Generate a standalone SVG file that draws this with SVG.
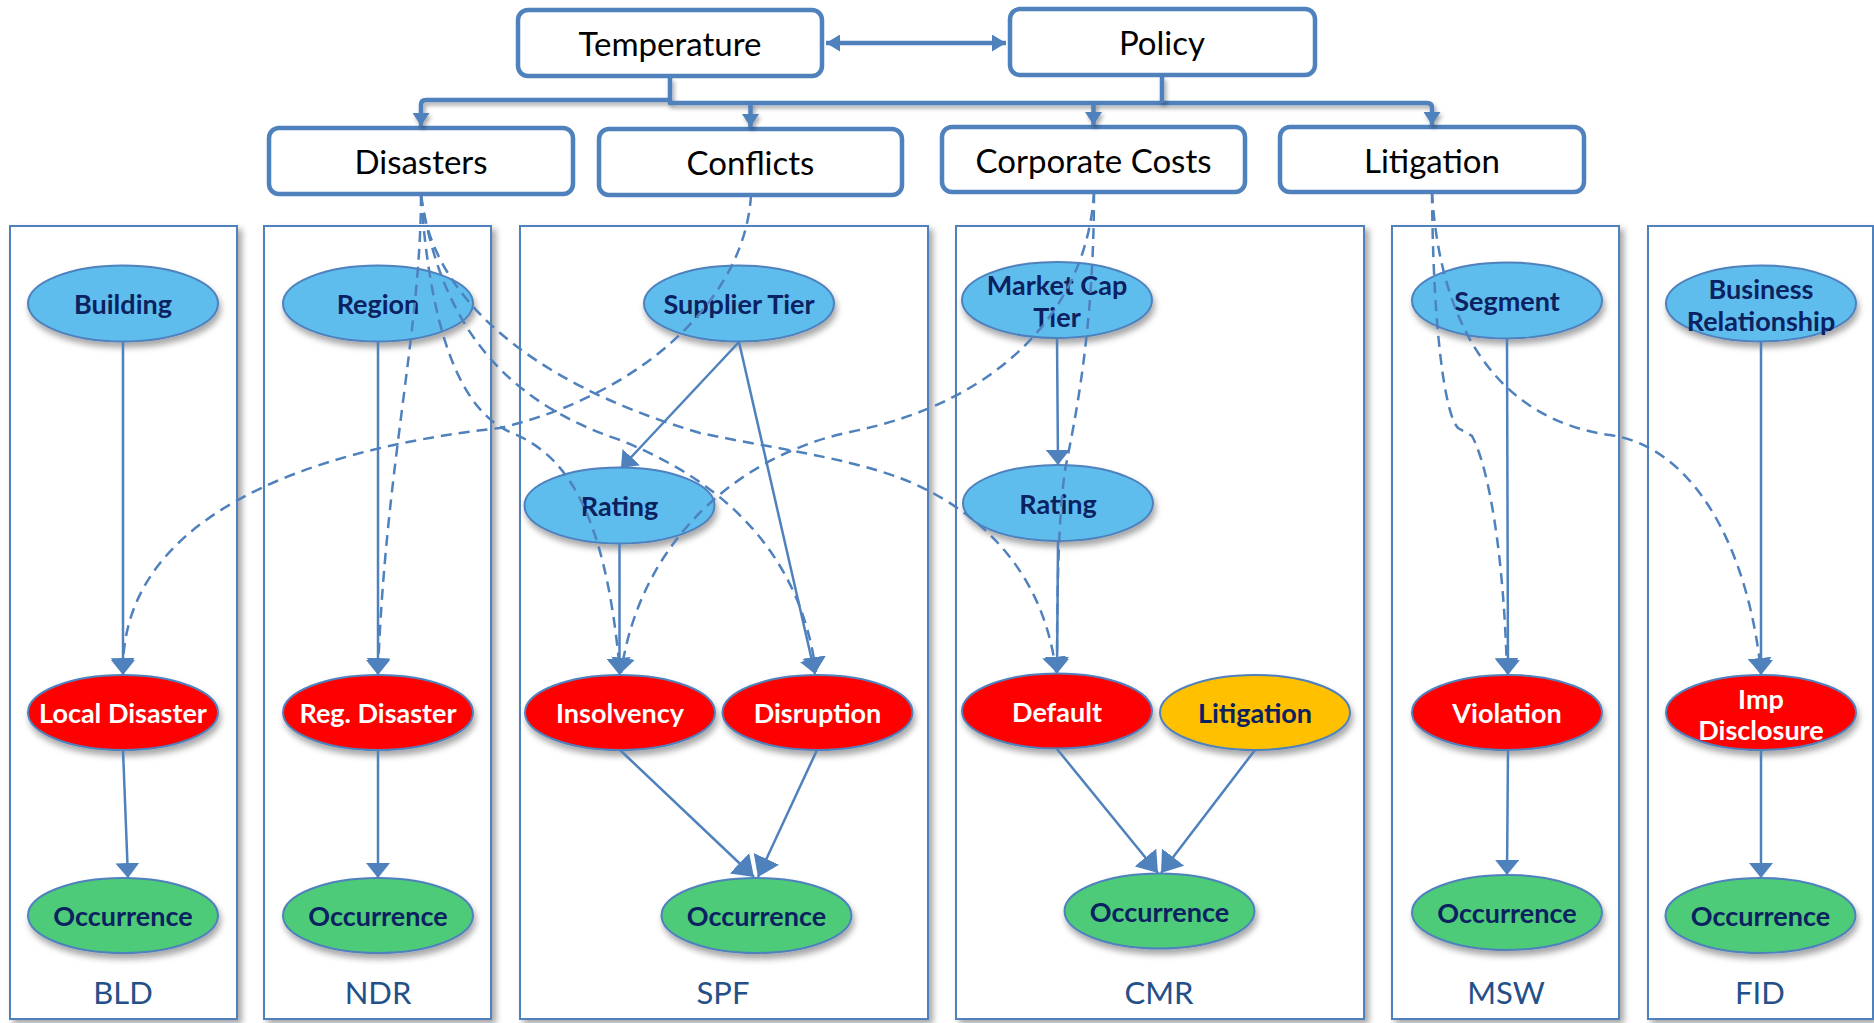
<svg xmlns="http://www.w3.org/2000/svg" width="1874" height="1023" viewBox="0 0 1874 1023">
  <defs>
    <style>
      .panel { fill: #ffffff; stroke: #4F81BD; stroke-width: 2; filter: url(#panelShadow); }
      .plabel { font-family: Lato, "Liberation Sans", sans-serif; font-size: 31px; fill: #24508A; text-anchor: middle; dominant-baseline: central; }
      .box { fill: #ffffff; stroke: #4F81BD; stroke-width: 4.5; }
      .btext { font-family: Lato, "Liberation Sans", sans-serif; font-size: 33px; fill: #000000; text-anchor: middle; dominant-baseline: central; }
      .node { stroke: #4F81BD; stroke-width: 2; filter: url(#nodeShadow); }
      .blue { fill: #5EBDEE; }
      .red { fill: #FF0000; }
      .yellow { fill: #FFC000; }
      .green { fill: #4ECB78; }
      .ntext { font-family: Lato, "Liberation Sans", sans-serif; font-weight: bold; font-size: 27px; fill: #0B2160; text-anchor: middle; dominant-baseline: central; }
      .ntext.white { fill: #ffffff; }
      .bus { fill: none; stroke: #4F81BD; stroke-width: 4.5; stroke-linejoin: round; filter: url(#busShadow); }
      .edge { fill: none; stroke: #4F81BD; stroke-width: 2.5; marker-end: url(#ah); }
      .edge.join { marker-end: url(#ahL); }
      .dash { fill: none; stroke: #4F81BD; stroke-width: 2.5; stroke-dasharray: 11 7; marker-end: url(#ah); }
    </style>
    <filter id="panelShadow" x="-10%" y="-5%" width="120%" height="110%">
      <feDropShadow dx="4" dy="4" stdDeviation="3" flood-color="#000000" flood-opacity="0.35"/>
    </filter>
    <filter id="nodeShadow" x="-20%" y="-20%" width="140%" height="160%">
      <feDropShadow dx="2" dy="5" stdDeviation="3" flood-color="#000000" flood-opacity="0.35"/>
    </filter>
    <filter id="busShadow" filterUnits="userSpaceOnUse" x="0" y="0" width="1874" height="300">
      <feDropShadow dx="2" dy="3" stdDeviation="2" flood-color="#000000" flood-opacity="0.35"/>
    </filter>
    <marker id="ah" markerUnits="userSpaceOnUse" viewBox="0 0 15 24" markerWidth="15" markerHeight="24" refX="15" refY="12" orient="auto">
      <path d="M0,0 L15,12 L0,24 z" fill="#4F81BD"/>
    </marker>
    <marker id="ahL" markerUnits="userSpaceOnUse" viewBox="0 0 20 28" markerWidth="20" markerHeight="28" refX="20" refY="14" orient="auto">
      <path d="M0,0 L20,14 L0,28 z" fill="#4F81BD"/>
    </marker>
    <marker id="ahS" markerUnits="userSpaceOnUse" viewBox="0 0 13 17" markerWidth="13" markerHeight="17" refX="13" refY="8.5" orient="auto">
      <path d="M0,0 L13,8.5 L0,17 z" fill="#4F81BD"/>
    </marker>
    <marker id="ahD" markerUnits="userSpaceOnUse" viewBox="0 0 14 17" markerWidth="14" markerHeight="17" refX="14" refY="8.5" orient="auto-start-reverse">
      <path d="M0,0 L14,8.5 L0,17 z" fill="#4F81BD"/>
    </marker>
  </defs>

  <rect width="1874" height="1023" fill="#ffffff"/>

  <!-- model panels -->
  <g id="panel-bld">
    <rect class="panel" x="10" y="226" width="227" height="793"/>
    <text class="plabel" x="123" y="992">BLD</text>
  </g>
  <g id="panel-ndr">
    <rect class="panel" x="264" y="226" width="227" height="793"/>
    <text class="plabel" x="378" y="992">NDR</text>
  </g>
  <g id="panel-spf">
    <rect class="panel" x="520" y="226" width="408" height="793"/>
    <text class="plabel" x="723" y="992">SPF</text>
  </g>
  <g id="panel-cmr">
    <rect class="panel" x="956" y="226" width="408" height="793"/>
    <text class="plabel" x="1159" y="992">CMR</text>
  </g>
  <g id="panel-msw">
    <rect class="panel" x="1392" y="226" width="227" height="793"/>
    <text class="plabel" x="1506" y="992">MSW</text>
  </g>
  <g id="panel-fid">
    <rect class="panel" x="1648" y="226" width="225" height="793"/>
    <text class="plabel" x="1760" y="992">FID</text>
  </g>

  <!-- drivers -->
  <g id="temperature">
    <rect class="box" x="518" y="10" width="304" height="66" rx="10"/>
    <text class="btext" x="670" y="43">Temperature</text>
  </g>
  <g id="policy">
    <rect class="box" x="1010" y="9" width="305" height="66" rx="10"/>
    <text class="btext" x="1162" y="42">Policy</text>
  </g>
  <g id="disasters">
    <rect class="box" x="269" y="128" width="304" height="66" rx="10"/>
    <text class="btext" x="421" y="161">Disasters</text>
  </g>
  <g id="conflicts">
    <rect class="box" x="599" y="129" width="303" height="66" rx="10"/>
    <text class="btext" x="750.5" y="162">Conflicts</text>
  </g>
  <g id="corporate-costs">
    <rect class="box" x="942" y="127" width="303" height="65" rx="10"/>
    <text class="btext" x="1093.5" y="160">Corporate Costs</text>
  </g>
  <g id="litigation-driver">
    <rect class="box" x="1280" y="127" width="304" height="65" rx="10"/>
    <text class="btext" x="1432" y="160">Litigation</text>
  </g>

  <!-- BLD -->
  <g id="bld-building">
    <ellipse class="node blue" cx="123" cy="303.5" rx="95" ry="38"/>
    <text class="ntext" x="123" y="303.5">Building</text>
  </g>
  <g id="bld-local-disaster">
    <ellipse class="node red" cx="123" cy="712.5" rx="95" ry="37.5"/>
    <text class="ntext white" x="123" y="712.5">Local Disaster</text>
  </g>
  <g id="bld-occurrence">
    <ellipse class="node green" cx="123" cy="915.5" rx="95" ry="37.5"/>
    <text class="ntext" x="123" y="915.5">Occurrence</text>
  </g>

  <!-- NDR -->
  <g id="ndr-region">
    <ellipse class="node blue" cx="378" cy="303.5" rx="95" ry="38"/>
    <text class="ntext" x="378" y="303.5">Region</text>
  </g>
  <g id="ndr-reg-disaster">
    <ellipse class="node red" cx="378" cy="712.5" rx="95" ry="37.5"/>
    <text class="ntext white" x="378" y="712.5">Reg. Disaster</text>
  </g>
  <g id="ndr-occurrence">
    <ellipse class="node green" cx="378" cy="915.5" rx="95" ry="37.5"/>
    <text class="ntext" x="378" y="915.5">Occurrence</text>
  </g>

  <!-- SPF -->
  <g id="spf-supplier-tier">
    <ellipse class="node blue" cx="739" cy="303.5" rx="95" ry="38"/>
    <text class="ntext" x="739" y="303.5">Supplier Tier</text>
  </g>
  <g id="spf-rating">
    <ellipse class="node blue" cx="619.5" cy="505.5" rx="95" ry="38"/>
    <text class="ntext" x="619.5" y="505.5">Rating</text>
  </g>
  <g id="spf-insolvency">
    <ellipse class="node red" cx="620" cy="712.5" rx="95" ry="37.5"/>
    <text class="ntext white" x="620" y="712.5">Insolvency</text>
  </g>
  <g id="spf-disruption">
    <ellipse class="node red" cx="817.5" cy="712.5" rx="95" ry="37.5"/>
    <text class="ntext white" x="817.5" y="712.5">Disruption</text>
  </g>
  <g id="spf-occurrence">
    <ellipse class="node green" cx="756.5" cy="915.5" rx="95" ry="37.5"/>
    <text class="ntext" x="756.5" y="915.5">Occurrence</text>
  </g>

  <!-- CMR -->
  <g id="cmr-market-cap-tier">
    <ellipse class="node blue" cx="1057" cy="300" rx="95" ry="38"/>
    <text class="ntext" x="1057" y="284">Market Cap</text>
    <text class="ntext" x="1057" y="316">Tier</text>
  </g>
  <g id="cmr-rating">
    <ellipse class="node blue" cx="1058" cy="503" rx="95" ry="38"/>
    <text class="ntext" x="1058" y="503">Rating</text>
  </g>
  <g id="cmr-default">
    <ellipse class="node red" cx="1057" cy="711" rx="95" ry="37.5"/>
    <text class="ntext white" x="1057" y="711">Default</text>
  </g>
  <g id="cmr-litigation">
    <ellipse class="node yellow" cx="1255" cy="712.5" rx="95" ry="37.5"/>
    <text class="ntext" x="1255" y="712.5">Litigation</text>
  </g>
  <g id="cmr-occurrence">
    <ellipse class="node green" cx="1159.5" cy="911" rx="95" ry="37.5"/>
    <text class="ntext" x="1159.5" y="911">Occurrence</text>
  </g>

  <!-- MSW -->
  <g id="msw-segment">
    <ellipse class="node blue" cx="1507" cy="300.5" rx="95" ry="38"/>
    <text class="ntext" x="1507" y="300.5">Segment</text>
  </g>
  <g id="msw-violation">
    <ellipse class="node red" cx="1507" cy="712.5" rx="95" ry="37.5"/>
    <text class="ntext white" x="1507" y="712.5">Violation</text>
  </g>
  <g id="msw-occurrence">
    <ellipse class="node green" cx="1507" cy="912.5" rx="95" ry="37.5"/>
    <text class="ntext" x="1507" y="912.5">Occurrence</text>
  </g>

  <!-- FID -->
  <g id="fid-business-relationship">
    <ellipse class="node blue" cx="1761" cy="303.5" rx="95" ry="38"/>
    <text class="ntext" x="1761" y="288">Business</text>
    <text class="ntext" x="1761" y="320">Relationship</text>
  </g>
  <g id="fid-imp-disclosure">
    <ellipse class="node red" cx="1761" cy="712.5" rx="95" ry="37.5"/>
    <text class="ntext white" x="1761" y="698">Imp</text>
    <text class="ntext white" x="1761" y="729">Disclosure</text>
  </g>
  <g id="fid-occurrence">
    <ellipse class="node green" cx="1760.5" cy="915.5" rx="95" ry="37.5"/>
    <text class="ntext" x="1760.5" y="915.5">Occurrence</text>
  </g>

  <!-- connectors -->
  <g id="connectors">
    <!-- driver tree -->
    <line x1="826" y1="43" x2="1006" y2="43" stroke="#4F81BD" stroke-width="4.5" marker-start="url(#ahD)" marker-end="url(#ahD)"/>
    <path class="bus" d="M670,78 V100 H426 Q421,100 421,105 V126" marker-end="url(#ahS)"/>
    <path class="bus" d="M670,100 V103 H1427 Q1432,103 1432,108 V125" marker-end="url(#ahS)"/>
    <path class="bus" d="M1162,77 V103"/>
    <path class="bus" d="M750.5,103 V127" marker-end="url(#ahS)"/>
    <path class="bus" d="M1093.5,103 V125" marker-end="url(#ahS)"/>

    <!-- solid dependencies inside each model -->
    <path class="edge" d="M123,342 L123,675"/>
    <path class="edge" d="M123,750 L128,878"/>
    <path class="edge" d="M378,342 L378,675"/>
    <path class="edge" d="M378,750 L378,878"/>
    <path class="edge" d="M739,342 L621,468"/>
    <path class="edge" d="M739,342 L815,674"/>
    <path class="edge" d="M619.5,543.5 L619.5,675"/>
    <path class="edge join" d="M620,750 L754,877"/>
    <path class="edge join" d="M817,750 L758,877"/>
    <path class="edge" d="M1057,338 L1058,465"/>
    <path class="edge" d="M1058,541 L1057,673.5"/>
    <path class="edge join" d="M1057,749 L1158,873"/>
    <path class="edge join" d="M1255,750 L1161,873"/>
    <path class="edge" d="M1507,338.5 L1508,675"/>
    <path class="edge" d="M1508,750 L1507,875"/>
    <path class="edge" d="M1761,342 L1761,675"/>
    <path class="edge" d="M1761,750 L1761,878"/>

    <!-- hazard links -->
    <path class="dash" d="M421,195 C 421,330 385,470 378,673"/>
    <path class="dash" d="M421,195 C 430,330 460,410 510,432 C 560,452 605,500 620,673"/>
    <path class="dash" d="M421,195 C 440,320 500,400 620,440 C 720,480 800,550 816,672"/>
    <path class="dash" d="M421,195 C 430,290 520,380 700,433 C 780,450 870,460 927,490 C 990,522 1045,580 1056,672"/>
    <path class="dash" d="M751,195 C 745,300 640,395 500,428 C 300,450 120,520 123,673"/>
    <path class="dash" d="M1094,192 C 1088,300 1010,400 850,432 C 740,455 640,540 621,673"/>
    <path class="dash" d="M1094,192 C 1094,330 1075,420 1065,470 C 1058,520 1057,600 1057,672"/>
    <path class="dash" d="M1432,192 C 1433,330 1445,415 1458,428 L1472,436 C 1490,470 1504,560 1507,673"/>
    <path class="dash" d="M1432,192 C 1440,330 1500,420 1610,435 C 1700,448 1750,560 1761,673"/>
  </g>
</svg>
